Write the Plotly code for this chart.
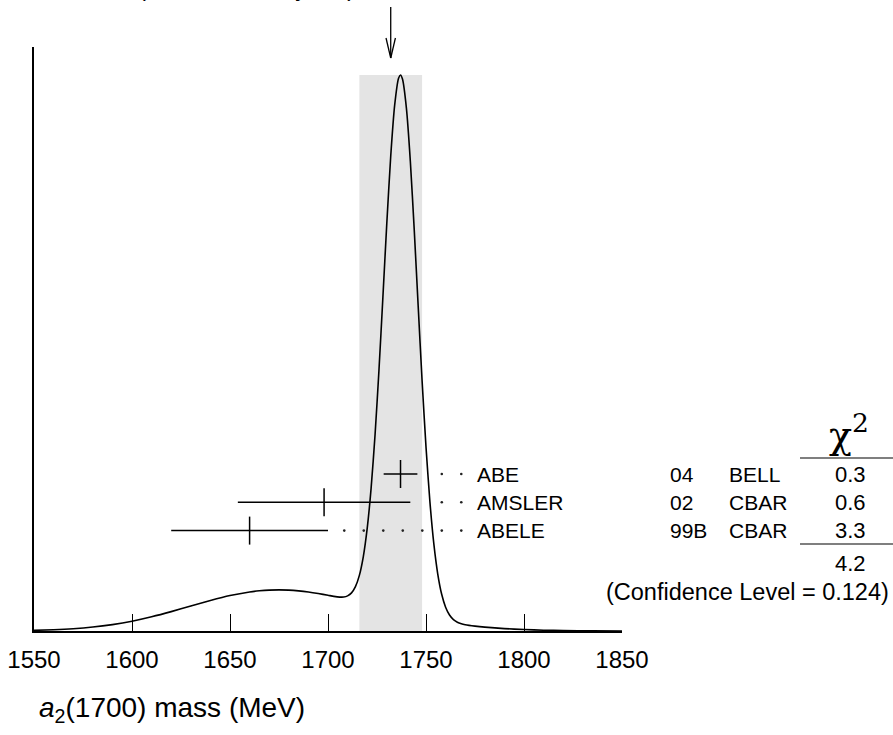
import plotly.graph_objects as go

# ---------------- data ----------------
# ideogram curve, mass in MeV, relative density
curve_mass = [1550, 1560, 1570, 1580, 1590, 1600, 1610, 1620, 1630, 1640, 1650, 1660,
              1665, 1670, 1675, 1680, 1685, 1690, 1695, 1700, 1703, 1706, 1708, 1710,
              1712, 1714, 1716, 1718, 1720, 1722, 1724, 1726, 1728, 1730, 1732, 1734,
              1736, 1737, 1738, 1740, 1742, 1744, 1746, 1748, 1750, 1752, 1754, 1756,
              1758, 1760, 1762, 1764, 1766, 1768, 1770, 1775, 1780, 1790, 1800, 1810,
              1820, 1835, 1850]
curve_density = [0.0012, 0.0023, 0.0042, 0.0073, 0.0119, 0.0182, 0.0264, 0.0360, 0.0465,
                 0.0568, 0.0659, 0.0726, 0.0747, 0.0760, 0.0764, 0.0760, 0.0746, 0.0725,
                 0.0697, 0.0664, 0.0643, 0.0630, 0.0631, 0.0653, 0.0708, 0.0824, 0.1033,
                 0.1379, 0.1906, 0.2655, 0.3641, 0.4846, 0.6197, 0.7575, 0.8821, 0.9767,
                 1.0272, 1.0331, 1.0255, 0.9715, 0.8734, 0.7454, 0.6042, 0.4656, 0.3419,
                 0.2400, 0.1618, 0.1059, 0.0682, 0.0442, 0.0297, 0.0212, 0.0164, 0.0135,
                 0.0117, 0.0091, 0.0072, 0.0045, 0.0027, 0.0015, 0.0008, 0.0003, 0.0001]

names = ["ABE", "AMSLER", "ABELE"]
years = ["04", "02", "99B"]
experiments = ["BELL", "CBAR", "CBAR"]
values = [1737, 1698, 1660]
errors = [8.6, 44, 40]
chi2_values = ["0.3", "0.6", "3.3"]
chi2_total = "4.2"
confidence_level = "0.124"

avg_value = 1732
avg_error = 16
error_scale = "1.4"

tick_vals = [1550, 1600, 1650, 1700, 1750, 1800, 1850]
tick_text = ["1550", "1600", "1650", "1700", "1750", "1800", "1850"]
x_title = "<i>a</i><sub>2</sub>(1700) mass (MeV)"

# ---------------- layout constants (pixels) ----------------
W, H = 893, 735
L, R = 34, 622          # plot area left/right
TOP, BOT = 47, 631      # plot area top/bottom
PEAK_PX = 75            # pixel height of ideogram peak
ROW0, ROW_STEP = 474, 28.3
FONT = "Liberation Sans, Arial, Helvetica, sans-serif"
FS = 24
FS_TABLE = 21
FS_NUM = 22


def px2p(px):
    return (px - L) / (R - L)


def py2p(py):
    return (BOT - py) / (BOT - TOP)


peak = max(curve_density)
ymax = peak * (BOT - TOP) / (BOT - PEAK_PX)
row_y = [ROW0 + i * ROW_STEP for i in range(len(names))]

fig = go.Figure()

# ideogram curve
fig.add_trace(go.Scatter(x=curve_mass, y=curve_density, mode="lines",
                         line=dict(color="black", width=1.6, shape="spline", smoothing=0.6),
                         hoverinfo="skip", showlegend=False))

# measurements with error bars (rows placed in pixel coordinates via y2)
fig.add_trace(go.Scatter(x=values, y=row_y, yaxis="y2", mode="markers",
                         marker=dict(symbol="line-ns", size=20, color="black",
                                     line=dict(width=1.5, color="black")),
                         error_x=dict(type="data", array=errors, width=0,
                                      thickness=1.5, color="black"),
                         hoverinfo="skip", showlegend=False))

# dotted leaders from error bars to labels
DOT_START, DOT_STEP, DOT_GAP = 1768, 9.95, 7
dx, dy = [], []
for v, e, yy in zip(values, errors, row_y):
    k = 0
    while True:
        xd = DOT_START - k * DOT_STEP
        if xd <= v + e + DOT_GAP:
            break
        dx.append(xd)
        dy.append(yy)
        k += 1
fig.add_trace(go.Scatter(x=dx, y=dy, yaxis="y2", mode="markers",
                         marker=dict(size=2.6, color="#222"),
                         hoverinfo="skip", showlegend=False))

shapes = [
    # weighted-average band
    dict(type="rect", xref="x", yref="y", x0=avg_value - avg_error, x1=avg_value + avg_error,
         y0=0, y1=peak, fillcolor="#e4e4e4", line=dict(width=0), layer="below"),
    # arrow
    dict(type="line", xref="x", yref="paper", x0=avg_value, x1=avg_value,
         y0=py2p(7), y1=py2p(58), line=dict(color="black", width=1.3)),
    dict(type="line", xref="x", yref="paper", xsizemode="pixel", xanchor=avg_value,
         x0=-4.7, x1=0, y0=py2p(38), y1=py2p(58), line=dict(color="black", width=1.3)),
    dict(type="line", xref="x", yref="paper", xsizemode="pixel", xanchor=avg_value,
         x0=4.7, x1=0, y0=py2p(38), y1=py2p(58), line=dict(color="black", width=1.3)),
    # chi2 underlines
    dict(type="line", xref="paper", yref="paper", x0=px2p(800), x1=px2p(893),
         y0=py2p(458), y1=py2p(458), line=dict(color="black", width=1.2)),
    dict(type="line", xref="paper", yref="paper", x0=px2p(800), x1=px2p(893),
         y0=py2p(544), y1=py2p(544), line=dict(color="black", width=1.2)),
]

annotations = []


def txt(text, px, py, anchor="left", size=FS_TABLE, family=FONT):
    annotations.append(dict(text=text, xref="paper", yref="paper", x=px2p(px), y=py2p(py),
                            xanchor=anchor, yanchor="middle", showarrow=False,
                            font=dict(family=family, size=size, color="black")))


for i in range(len(names)):
    txt(names[i], 474.5, row_y[i])
    txt(years[i], 668, row_y[i])
    txt(experiments[i], 727, row_y[i])
    txt(chi2_values[i], 850, row_y[i], anchor="center", size=FS_NUM)
txt(chi2_total, 850, 563, anchor="center", size=FS_NUM)
txt("(Confidence Level = " + confidence_level + ")", 891, 592, anchor="right", size=23.5)
txt("χ<sup>2</sup>", 849, 432, anchor="center", size=38,
    family="DejaVu Serif, Liberation Serif, serif")
txt(x_title, 37, 709, size=28)

# weighted average text (mostly above the visible page)
annotations.append(dict(text="WEIGHTED AVERAGE<br>" + str(avg_value) + "±" + str(avg_error)
                        + " (Error scaled by " + error_scale + ")",
                        xref="paper", yref="paper", x=px2p(36), y=py2p(3),
                        xanchor="left", yanchor="bottom", align="left", showarrow=False,
                        font=dict(family=FONT, size=FS, color="black")))

fig.update_layout(
    width=W, height=H,
    margin=dict(l=L, r=W - R, t=TOP, b=H - BOT, pad=0),
    paper_bgcolor="white", plot_bgcolor="white",
    showlegend=False,
    xaxis=dict(range=[1550, 1850], showline=True, linecolor="black", linewidth=1.5,
               ticks="inside", ticklen=17, tickwidth=1.3, tickcolor="black",
               tickvals=tick_vals, ticktext=tick_text,
               tickfont=dict(family=FONT, size=FS, color="black"),
               ticklabelstandoff=6, automargin=False,
               showgrid=False, zeroline=False, fixedrange=True),
    yaxis=dict(range=[0, ymax], showline=True, linecolor="black", linewidth=1.5,
               showticklabels=False, ticks="", showgrid=False, zeroline=False,
               fixedrange=True, automargin=False),
    yaxis2=dict(range=[BOT, TOP], overlaying="y", visible=False, fixedrange=True),
    shapes=shapes,
    annotations=annotations,
)

fig.write_html("out.html",
               config={"displayModeBar": False},
               post_script="document.body.style.margin='0';document.body.style.overflow='hidden';")
